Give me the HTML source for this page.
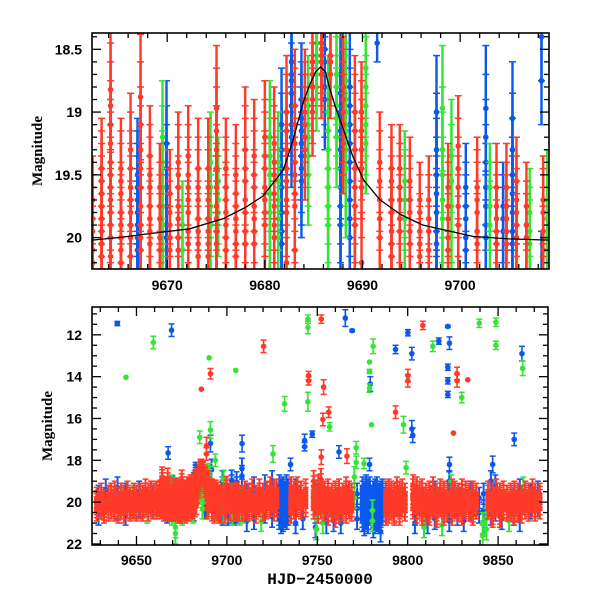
<!DOCTYPE html>
<html><head><meta charset="utf-8">
<style>
html,body{margin:0;padding:0;background:#fff;}
svg{display:block;}
</style></head>
<body>
<svg id="chart" width="600" height="600" viewBox="0 0 600 600" xmlns="http://www.w3.org/2000/svg" font-family="Liberation Sans, sans-serif">
<defs>
<clipPath id="clipTop"><rect x="92" y="33" width="457" height="236"/></clipPath>
<clipPath id="clipBot"><rect x="92" y="307" width="456" height="238"/></clipPath>
</defs>
<g id="topMarks" clip-path="url(#clipTop)"></g>
<g id="botMarks" clip-path="url(#clipBot)"></g>
<g id="axes"></g>
<text transform="translate(42,151) rotate(-90)" text-anchor="middle" style="font-family:'Liberation Serif',serif;font-size:15px;font-weight:bold">Magnitude</text>
<text transform="translate(52,426) rotate(-90)" text-anchor="middle" style="font-family:'Liberation Serif',serif;font-size:15px;font-weight:bold">Magnitude</text>
<text x="320" y="584" text-anchor="middle" style="font-family:'Liberation Mono',monospace;font-size:16px;font-weight:bold">HJD−2450000</text>
</svg>
<script>
// ---- top-panel (zoom) data: epoch time, colour, magnitudes, error ----
const topT = [9662.36,9663.28,9664.20,9665.26,9666.25,9666.96,9667.27,9668.23,9669.25,9669.52,9669.93,9670.27,9671.13,9671.57,9672.15,9673.17,9674.20,9674.44,9675.05,9675.22,9676.01,9677.03,9677.99,9678.91,9680.00,9680.51,9680.96,9681.37,9681.71,9682.22,9682.73,9683.07,9683.75,9684.10,9684.44,9684.88,9685.29,9685.80,9686.14,9686.48,9686.72,9687.34,9687.75,9688.02,9688.29,9688.70,9689.22,9689.90,9690.34,9691.50,9691.77,9692.97,9693.82,9694.33,9694.85,9695.87,9696.79,9697.58,9698.19,9698.77,9699.11,9699.80,9700.58,9701.74,9702.63,9703.04,9703.72,9704.40,9704.74,9705.36,9705.77,9706.79,9707.13,9708.33,9708.50,9708.91];
const topC = ['r','r','r','r','r','b','r','r','r','g','b','r','r','g','r','r','r','g','r','g','r','r','r','r','r','g','r','g','b','r','b','r','b','r','g','r','g','r','b','g','r','g','b','r','g','b','r','r','g','b','r','r','r','g','r','r','r','b','g','r','g','r','b','r','b','g','r','b','r','b','r','r','g','b','r','g'];
const topM = [
[19.7,19.85,19.95,20.1,20.2],[19.45,19.55,19.65,19.75,19.85,19.95,20.05,20.15,20.3],[18.82,18.95,19.1,19.25,19.4,19.5,19.6,19.7,19.8,19.9,20.0,20.15,20.3],[19.45,19.55,19.65,19.8,19.9,20.0,20.1,20.2,20.4],[19.3,19.45,19.6,19.7,19.8,19.9,20.0,20.15,20.4],
[19.5,19.6,19.7,19.8,19.9,20.0,20.1,20.5],[18.88,19.1,19.3,19.45,19.6,19.75,19.9,20.0,20.1,20.4],[19.35,19.5,19.6,19.75,19.85,19.95,20.05,20.4],[19.6,19.75,19.85,20.0,20.1,20.4],[19.2,19.4,19.6,19.75,19.9,20.1,20.6],
[19.25,19.45,19.6,19.75,19.9,20.0,20.4],[19.65,19.8,19.9,20.0,20.1,20.4],[19.4,19.5,19.6,19.75,19.85,20.0,20.1,20.4],[19.9,20.1,21.2,21.5],[19.35,19.5,19.6,19.7,19.8,19.95,20.05,20.4],
[19.45,19.6,19.7,19.85,19.95,20.05,20.15,20.5],[19.45,19.6,19.7,19.85,19.95,20.05,20.15,20.5],[19.4,19.6,19.75,19.9,20.3],[18.97,19.15,19.3,19.45,19.6,19.75,19.85,19.95,20.05,20.4],[19.55,19.7,19.8,20.6],
[19.45,19.6,19.7,19.8,19.9,20.0,20.1,20.4],[19.5,19.65,19.75,19.85,19.95,20.05,20.15,20.5],[19.3,19.45,19.55,19.7,19.8,19.95,20.05,20.4],[19.35,19.5,19.6,19.75,19.85,19.95,20.05,20.4],[19.2,19.35,19.45,19.6,19.7,19.8,19.9,20.3],
[19.2,19.35,19.5,19.65,19.8,20.4],[19.25,19.4,19.5,19.65,19.75,19.9,20.0,20.3],[19.4,19.55,19.7,19.85,20.0,20.5],[19.1,19.3,19.45,19.6,19.8,19.95,20.05,20.4],[19.0,19.15,19.3,19.45,19.55,19.7,19.8,20.2],
[18.6,18.7,18.75,18.85,18.95,19.1,19.2],[18.95,19.1,19.25,19.4,19.5,19.65,19.75,20.1],[18.9,19.05,19.15,19.25,19.35,19.45,19.55],[18.9,19.0,19.1,19.2,19.3],[18.95,19.1,19.2,19.35,19.5],
[18.6,18.7,18.8,18.9,19.0],[18.45,18.55,18.6,18.7,18.8],[18.45,18.5,18.55,18.6,18.7],[18.5,18.6,18.7,18.8,18.9],[19.0,19.15,19.3,19.45,19.6,19.75,19.9,20.3],
[18.55,18.6,18.7],[18.7,18.8,18.95,19.05,19.2],[18.7,18.85,19.0,19.15,19.3,19.45,19.6,19.75,19.9,20.3],[18.8,18.9,19.0,19.1,19.25],[18.75,18.9,19.0,19.15,19.3,19.45,19.55],
[18.8,18.95,19.1,19.25,19.4,19.55,19.7,19.85,20.0,20.3],[19.0,19.15,19.3,19.45,19.6,19.75,19.9,20.3],[19.0,19.15,19.3,19.45,19.6,20.2],[18.65,18.8,18.95,19.1,19.25],[18.45],
[19.4,19.55,19.7,19.85,20.0,20.4],[19.45,19.55,19.7,19.8,19.95,20.05,20.15,20.5],[19.45,19.6,19.7,19.85,19.95,20.3],[19.55,19.7,19.85,20.4],[19.55,19.7,19.8,19.95,20.05,20.4],
[19.7,19.8,19.95,20.05,20.15,20.5],[19.7,19.85,19.95,20.1,20.5],[19.0,19.3,19.5,19.65,19.8,19.95,20.05,20.6],[18.97,19.3,19.5,19.7,19.85,20.5],[19.6,19.75,19.85,20.0,20.1,20.5],
[19.35,19.55,19.75,20.4],[19.27,19.45,19.6,19.75,19.9,20.3],[19.6,19.75,19.85,20.0,20.1,20.6],[19.6,19.7,19.8,19.95,20.05,20.4],[18.97,19.2,19.4,19.6,19.75,19.9,20.0,20.5],
[19.6,19.75,19.9,20.6],[19.6,19.75,19.85,19.95,20.05,20.4],[19.75,19.85,19.95,20.6],[19.6,19.75,19.85,19.95,20.05,20.4],[19.05,19.3,19.5,19.65,19.8,19.95,20.05,20.5],
[19.55,19.7,19.8,19.9,20.0,20.4],[19.75,19.9,20.0,20.4],[19.8,19.95,20.05,20.6],[18.4,18.75,20.3],[19.7,19.8,19.95,20.1,20.4],[19.7,19.85,20.0,20.5]];
const topE = [0.35,0.4,0.5,0.4,0.45,0.45,0.5,0.4,0.35,0.45,0.5,0.35,0.4,0.35,0.4,0.4,0.4,0.4,0.5,0.35,0.4,0.4,0.5,0.45,0.45,0.45,0.45,0.4,0.45,0.45,0.4,0.45,0.45,0.4,0.4,0.35,0.35,0.35,0.4,0.45,0.35,0.4,0.45,0.4,0.45,0.45,0.45,0.4,0.4,0.15,0.4,0.35,0.35,0.4,0.35,0.3,0.35,0.45,0.5,0.35,0.45,0.4,0.35,0.4,0.5,0.35,0.35,0.35,0.35,0.45,0.35,0.35,0.35,0.35,0.35,0.4];

// ---- bottom-panel band data outside the zoom window ----
const bandT = [9628,9629,9630.5,9632,9633,9634.5,9636,9637.5,9638,9639.5,9640,9641.5,9643,9644,9645,9646.5,9648,9648.5,9650,9651.5,9652,9653.5,9655,9656,9656.5,9658,9659,9659.5,9661,
9710,9711,9712,9714,9715,9716,9718,9719,9720,9721,9722,9724,9725,9726,9727.5,9729,9730,9731,9732,9733,9734,9735.5,9737,9738,9739,9741,9742,9743.5,9748,9749,9749.5,9750.5,9752,9753,9754,9755,9756,9758,9759,9760,9762,9763,9764,9766,9767.5,9769,9770.5,9772,9775,9776,9777,9778,9779,9780.5,9781,9782,9783,9784,9785,9786,9788,9789.5,9791,9792.5,9794,9795.5,9797,9798.5,9803,9804,9805,9806.5,9808,9809,9810,9811,9812,9814,9815,9816,9818,9819,9820,9822,9823,9824.5,9826,9827.5,9828,9830,9831,9832,9834,9835,9836,9838,9839.5,9841.5,9842,9843.5,9844.5,9846,9847,9848.5,9849,9851,9852,9853,9855,9856,9857,9858.5,9859,9861,9862,9863,9864,9865,9867,9868,9869,9870.5,9872,9873];
const bandC = ['r','b','r','r','b','r','r','g','r','b','r','r','r','b','r','r','g','r','r','b','r','r','r','g','r','r','b','r','r',
'r','b','r','r','b','r','r','g','r','b','r','r','b','r','r','b','b','b','b','b','b','r','r','b','r','r','b','r','r','b','g','r','r','g','r','b','r','r','b','r','r','b','r','r','r','r','g','b','b','b','b','b','b','g','b','b','b','b','b','b','r','r','r','r','r','r','r','r','r','b','r','r','r','g','r','b','r','r','b','r','r','g','r','r','b','r','r','b','r','r','b','r','r','b','r','r','b','g','b','g','r','b','r','b','r','r','b','r','r','g','r','b','r','r','b','r','g','r','r','b','r','r','b','r'];
const bandM = [[19.8,19.95,20.1,20.25,20.4],[19.7,20.3,20.6],[19.6,19.8,20.0,20.15,20.3],[19.9,20.05,20.2,20.35,20.5],[19.4,20.0],[19.7,19.9,20.1,20.25,20.4],[19.6,19.75,19.9,20.1,20.3],[19.8,20.2],[19.5,19.75,20.0,20.2,20.4],[19.3,20.3],[19.8,20.0,20.2,20.35,20.5],[19.6,19.8,20.0,20.15,20.3],[19.7,19.9,20.1,20.3,20.5],[19.6,20.6],[19.5,19.7,19.9,20.1,20.3],[19.8,19.95,20.1,20.25,20.4],[19.7,20.2],[19.6,19.8,20.0,20.15,20.3],[19.7,19.9,20.1,20.25,20.4],[19.5,20.2],[19.6,19.75,19.9,20.1,20.3],[19.7,19.9,20.1,20.25,20.4],[19.4,19.6,19.8,20.0,20.2],[19.9,20.5],[19.6,19.8,20.0,20.2,20.4],[19.5,19.7,19.9,20.05,20.2],[19.7,20.3],[19.6,19.8,20.0,20.15,20.3],[19.5,19.7,19.9,20.1,20.3],
[19.5,19.7,19.9,20.1,20.3],[19.6,20.4,20.9],[19.6,19.8,20.0,20.2,20.4],[19.4,19.65,19.9,20.1,20.3],[19.3,20.2,20.8],[19.7,19.9,20.1,20.3,20.5],[19.4,19.6,19.8,20.0,20.2],[20.0,20.9],[19.6,19.8,20.0,20.2,20.4],[19.2,20.5],[19.5,19.7,19.9,20.1,20.3],[19.3,19.55,19.8,20.0,20.2],[19.0,20.0,20.7],[19.5,19.7,19.9,20.15,20.4],[19.4,19.6,19.8,20.0,20.2],[19.2,19.4,19.6,19.8,20.0,20.2,20.4,20.6,20.8],[19.4,19.6,19.8,20.0,20.2,20.4,20.6,20.8,21.0],[19.3,19.5,19.7,19.9,20.1,20.3,20.5,20.7,20.9],[19.5,19.7,19.9,20.1,20.3,20.5,20.7],[19.2,19.4,19.6,19.8,20.0,20.2,20.4,20.6,20.8],[19.4,19.6,19.8,20.0,20.2,20.4,20.6],[19.3,19.5,19.7,19.9,20.1,20.3,20.5],[19.5,19.7,19.9,20.1,20.3],[19.4,20.6,21.0],[19.3,19.55,19.8,20.0,20.2],[19.5,19.7,19.9,20.1,20.3],[20.0,20.8],[19.4,19.6,19.8,20.0,20.2],[19.0,19.25,19.5,19.7,19.9,20.1,20.3],[19.5,20.5,21.2],[20.8,21.3],[19.2,19.45,19.7,19.9,20.1,20.3,20.5],[18.9,19.15,19.4,19.6,19.8,20.05,20.3],[19.5,21.0],[19.5,19.75,20.0,20.2,20.4],[20.2,21.0],[19.4,19.6,19.8,20.0,20.2,20.4,20.6],[19.6,19.8,20.0,20.2,20.4],[20.3,20.9],[19.5,19.7,19.9,20.1,20.3,20.5,20.7],[19.4,19.6,19.8,20.0,20.2,20.35,20.5],[20.4,21.0],[19.6,19.8,20.0,20.2,20.4],[19.3,19.5,19.7,19.9,20.1,20.3,20.5],[19.5,19.7,19.9,20.1,20.3],[19.6,19.8,20.0,20.2,20.4],[18.8,19.8],[19.6,20.3,20.8],[19.3,19.5,19.7,19.9,20.1,20.3,20.5,20.7,20.9],[19.5,19.7,19.9,20.1,20.3,20.5,20.7,20.9,21.1],[19.2,19.4,19.6,19.8,20.0,20.2,20.4,20.6,20.8],[19.4,19.6,19.8,20.0,20.2,20.4,20.6,20.8,21.0],[19.3,19.5,19.7,19.9,20.1,20.3,20.5],[20.4,20.9],[19.5,19.7,19.9,20.1,20.3,20.5,20.7,20.9,21.2],[19.4,19.6,19.8,20.0,20.2,20.4,20.6,20.8,21.0],[19.3,19.5,19.7,19.9,20.1,20.3,20.5,20.7,20.9],[19.6,19.8,20.0,20.2,20.4,20.6,20.8],[19.5,19.7,19.9,20.1,20.3,20.5,20.7,21.0,21.4],[19.4,19.6,19.8,20.0,20.2,20.4,20.6],[19.5,19.7,19.9,20.1,20.3,20.45,20.6],[19.4,19.6,19.8,20.0,20.2,20.35,20.5],[19.5,19.7,19.9,20.1,20.3],[19.6,19.8,20.0,20.2,20.4,20.5,20.6],[19.3,19.55,19.8,20.0,20.2],[19.5,19.7,19.9,20.1,20.3,20.45,20.6],[19.4,19.6,19.8,20.0,20.2],[19.6,19.8,20.0,20.2,20.4],[19.2,19.4,19.6,19.75,19.9,20.1,20.3],[19.8,20.6,21.0],[19.3,19.5,19.7,19.9,20.1,20.3,20.5],[19.5,19.7,19.9,20.1,20.3],[19.4,19.6,19.8,20.0,20.2,20.4,20.6],[20.5,21.2],[19.6,19.8,20.0,20.2,20.4],[20.2,21.0],[19.5,19.7,19.9,20.1,20.3,20.45,20.6],[19.3,19.55,19.8,20.0,20.2],[19.5,20.8],[19.6,19.8,20.0,20.2,20.4,20.55,20.7],[19.4,19.6,19.8,20.0,20.2],[20.0,21.1],[19.5,19.7,19.9,20.1,20.3,20.45,20.6],[19.6,19.8,20.0,20.2,20.4],[19.0,19.5,20.3,20.9],[19.4,19.6,19.8,20.0,20.2,20.4,20.6],[19.5,19.7,19.9,20.1,20.3],[19.8,20.6],[19.6,19.8,20.0,20.2,20.4],[19.4,19.65,19.9,20.1,20.3,20.45,20.6],[20.0,20.9],[19.5,19.7,19.9,20.1,20.3],[19.6,19.8,20.0,20.2,20.4],[19.5,20.4],[19.5,19.7,19.9,20.1,20.3,20.45,20.6],[19.6,19.8,20.0,20.15,20.3],[19.8,20.5],[21.0,21.6],[19.6,20.4,21.0],[20.8,21.3],[19.5,19.7,19.9,20.1,20.3],[19.0,19.5,20.0,20.6],[19.6,19.8,20.0,20.2,20.4,20.55,20.7],[19.2,19.8,20.4],[19.4,19.6,19.8,20.0,20.2],[19.6,19.8,20.0,20.2,20.4,20.55,20.7],[20.1,20.8],[19.5,19.7,19.9,20.1,20.3],[19.7,19.9,20.1,20.25,20.4],[20.3,20.9],[19.6,19.8,20.0,20.2,20.4],[19.8,20.6],[19.5,19.7,19.9,20.1,20.3,20.45,20.6],[19.6,19.8,20.0,20.2,20.4],[19.4,20.2,20.9],[19.7,19.9,20.1,20.3,20.5],[19.3,20.0],[19.5,19.7,19.9,20.1,20.3],[19.6,19.8,20.0,20.2,20.4],[19.6,20.3],[19.4,19.6,19.8,20.0,20.2],[19.6,19.8,20.0,20.2,20.4],[19.5,20.2],[19.6,19.75,19.9,20.1,20.3]];
const bandE = 0.5;

// ---- bottom-panel bright outliers ----
const outT = [9639.4,9644.2,9659.3,9669.4,9667.5,9685.9,9690.2,9690.9,9704.9,9720.3,9708.4,9731.9,9725.5,9735.2,9744.8,9744.8,9744.8,9752.2,9745.2,9745.2,9753.5,9753.1,9756.3,9756.8,9743.0,9743.0,9747.2,9752.2,9766.4,9762.0,9765.5,9769.3,9778.9,9778.9,9779.3,9778.9,9780.9,9780.0,9771.5,9771.5,9775.8,9778.9,9793.3,9800.1,9802.3,9793.3,9797.7,9802.3,9802.8,9800.1,9800.1,9808.4,9813.9,9817.2,9822.2,9823.1,9822.2,9822.2,9822.2,9827.3,9827.3,9833.2,9829.9,9825.3,9839.6,9848.8,9848.8,9863.2,9863.6,9858.9,9823.1,9847.0,9824.0,9799.1,9690.9,9690.9,9685.0,9688.7,9688.7,9693.6];
const outM = [11.46,14.03,12.37,11.78,17.65,14.6,13.1,13.86,13.7,12.55,17.2,15.3,17.7,18.2,11.25,11.65,15.2,11.25,13.95,14.2,14.5,16.05,15.7,16.4,17.05,17.35,16.75,17.85,17.8,17.6,11.2,11.8,13.3,13.75,14.35,14.55,12.55,16.3,17.4,18.1,18.15,18.2,12.7,11.9,12.9,15.7,16.3,16.5,16.8,13.95,14.2,11.55,12.55,12.3,11.6,12.4,13.55,14.2,14.85,13.85,14.2,14.15,15.0,16.7,11.45,11.4,12.5,12.9,13.6,17.0,18.2,18.2,19.0,18.35,17.2,16.55,16.9,17.3,17.7,18.0];
const outE = [0.1,0,0.3,0.3,0.3,0,0,0.25,0,0.3,0.4,0.35,0.4,0.3,0.2,0.3,0.45,0.2,0.2,0.2,0.35,0.3,0.25,0.2,0.3,0.2,0.15,0.35,0.35,0.3,0.4,0.05,0,0.1,0.35,0.2,0.35,0,0.3,0.3,0.25,0.3,0.2,0.15,0.3,0.3,0.4,0.4,0.35,0.3,0.3,0.2,0.25,0.15,0.05,0.3,0.15,0.15,0.15,0.3,0.3,0,0.25,0,0.2,0.2,0.2,0.35,0.35,0.3,0.35,0.4,0.3,0.3,0.4,0.4,0.3,0.4,0.3,0.3];
const outC = ['b','g','g','b','b','r','g','r','g','r','b','g','g','b','g','g','g','r','r','r','r','r','r','g','b','b','b','r','r','b','b','b','g','g','b','g','g','g','g','g','g','b','b','b','b','r','g','b','b','r','r','r','g','b','b','b','b','b','b','r','r','r','g','r','g','g','g','b','g','b','b','b','g','g','b','g','g','r','r','g'];

// ---- model curve samples (top panel) ----
const curveT = [9662.3,9665,9668,9672.3,9675.7,9678,9679.8,9681.9,9682.9,9683.9,9684.6,9685.2,9685.7,9686.2,9686.6,9687.2,9689.0,9690.1,9691.8,9694,9696.2,9701.3,9705,9709.1];
const curveM = [20.02,20.0,19.97,19.93,19.85,19.76,19.67,19.46,19.22,18.93,18.78,18.68,18.64,18.68,18.8,18.95,19.35,19.54,19.7,19.82,19.9,19.99,20.01,20.02];

// ---- axis ticks ----
const topXTicks = [9670,9680,9690,9700];
const topYTicks = [18.5,19,19.5,20];
const botXTicks = [9650,9700,9750,9800,9850];
const botYTicks = [12,14,16,18,20,22];

const COL = {r:'#ff3a28', b:'#0a58ec', g:'#36e436'};
const NS = 'http://www.w3.org/2000/svg';

const T = {x0:92,x1:549,y0:33,y1:269,t0:9662.3,t1:9709.1,m0:18.37,m1:20.25};
const B = {x0:92,x1:548,y0:307,y1:545,t0:9625.4,t1:9877.6,m0:10.67,m1:22.05};
function sx(P,t){return P.x0+(t-P.t0)/(P.t1-P.t0)*(P.x1-P.x0);}
function sy(P,m){return P.y0+(m-P.m0)/(P.m1-P.m0)*(P.y1-P.y0);}

function mk(tag,attrs,parent){const e=document.createElementNS(NS,tag);for(const k in attrs)e.setAttribute(k,attrs[k]);parent.appendChild(e);return e;}

function point(g,P,t,m,err,c,cap,sw){
  const x=sx(P,t),y=sy(P,m),col=COL[c];
  const grp=mk('g',{},g);
  
  
  if(err>0){
    const ya=sy(P,m-err),yb=sy(P,m+err);
    mk('line',{x1:x,y1:ya,x2:x,y2:yb,stroke:col,'stroke-width':sw},grp);
    mk('line',{x1:x-cap,y1:ya,x2:x+cap,y2:ya,stroke:col,'stroke-width':1.5},grp);
    mk('line',{x1:x-cap,y1:yb,x2:x+cap,y2:yb,stroke:col,'stroke-width':1.5},grp);
  }
  mk('circle',{cx:x,cy:y,r:2.8,fill:col},grp);
}

const topG=document.getElementById('topMarks');
const botG=document.getElementById('botMarks');
['b','g','r'].forEach(c=>{
  for(let i=0;i<bandT.length;i++){ if(bandC[i]!==c) continue;
    bandM[i].forEach(m=>point(botG,B,bandT[i],m,bandE,c,3,2)); }
  for(let i=0;i<topT.length;i++){ if(topC[i]!==c) continue;
    topM[i].forEach(m=>{point(topG,T,topT[i],m,topE[i],c,3.5,2.4); point(botG,B,topT[i],m,0.5,c,3,2);}); }
  for(let i=0;i<outT.length;i++){ if(outC[i]!==c) continue;
    point(botG,B,outT[i],outM[i],outE[i],c,3,1.6); }
});
let d='';
for(let i=0;i<curveT.length;i++){d+=(i?'L':'M')+sx(T,curveT[i]).toFixed(1)+','+sy(T,curveM[i]).toFixed(1);}
const cp=mk('path',{d:d,fill:'none',stroke:'#000','stroke-width':1.3},topG);



const ax=document.getElementById('axes');
function frame(P,name){
  const r=mk('rect',{x:P.x0,y:P.y0,width:P.x1-P.x0,height:P.y1-P.y0,fill:'none',stroke:'#000','stroke-width':1.6},ax);
  
  
}
function ticks(P,xMin,xStart,yMin,yStart,xLab,yLab,xLabY,pre){
  const L=9,S=5;
  for(let t=xStart;t<=P.t1;t+=xMin){
    if(t<P.t0) continue;
    const isMaj=xLab.some(v=>Math.abs(v-t)<1e-6);
    const len=isMaj?L:S,x=sx(P,t);
    mk('line',{x1:x,y1:P.y1,x2:x,y2:P.y1-len,stroke:'#000','stroke-width':1.3},ax);
    mk('line',{x1:x,y1:P.y0,x2:x,y2:P.y0+len,stroke:'#000','stroke-width':1.3},ax);
  }
  for(let m=yStart;m<=P.m1+1e-6;m+=yMin){
    if(m<P.m0) continue;
    const isMaj=yLab.some(v=>Math.abs(v-m)<1e-6);
    const len=isMaj?L:S,y=sy(P,m);
    mk('line',{x1:P.x0,y1:y,x2:P.x0+len,y2:y,stroke:'#000','stroke-width':1.3},ax);
    mk('line',{x1:P.x1,y1:y,x2:P.x1-len,y2:y,stroke:'#000','stroke-width':1.3},ax);
  }
  xLab.forEach(v=>{
    const tx=mk('text',{x:sx(P,v),y:xLabY,'text-anchor':'middle','font-size':14,'font-weight':'bold'},ax);
    tx.textContent=String(v);
    
    
  });
  yLab.forEach(v=>{
    const tx=mk('text',{x:P.x0-10,y:sy(P,v)+5,'text-anchor':'end','font-size':14,'font-weight':'bold'},ax);
    tx.textContent=String(v);
    
    
  });
}
frame(T,'top-panel-frame');
frame(B,'bottom-panel-frame');
ticks(T,2,9664,0.1,18.4,topXTicks,topYTicks,290,'top-');
ticks(B,10,9630,0.5,11,botXTicks,botYTicks,565,'bottom-');
</script>
</body></html>
